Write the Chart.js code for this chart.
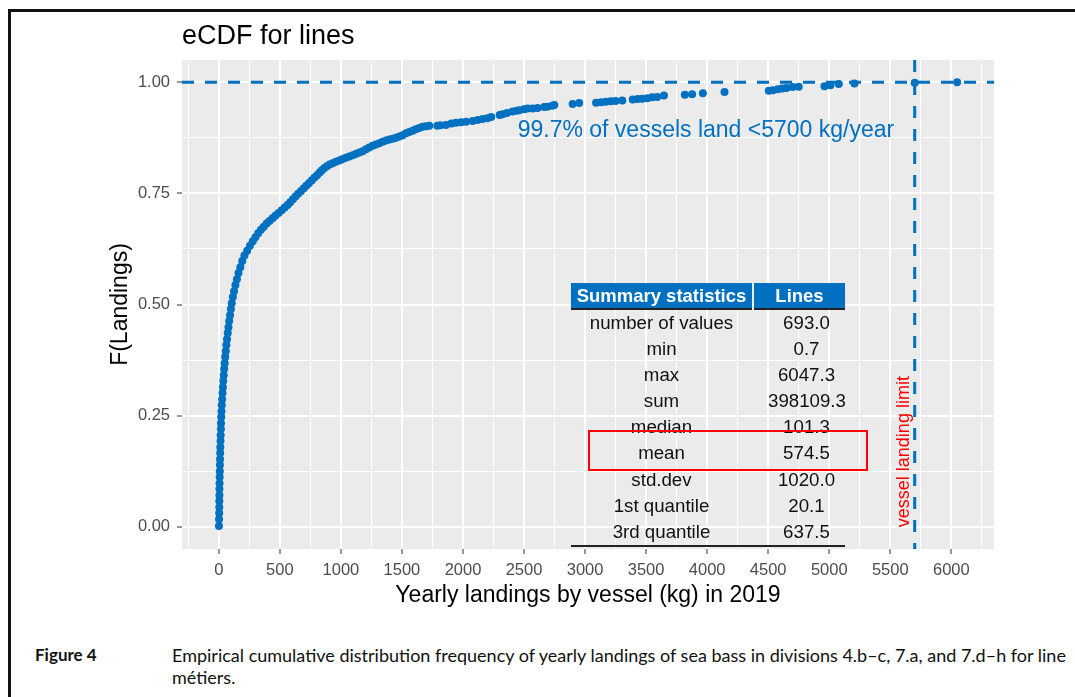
<!DOCTYPE html>
<html>
<head>
<meta charset="utf-8">
<title>eCDF for lines</title>
<script src="https://cdn.jsdelivr.net/npm/chart.js@4.4.1/dist/chart.umd.min.js"></script>
<style>
  body { margin: 0; width: 1075px; height: 697px; overflow: hidden; position: relative; background: #fff;
         font-family: "Liberation Sans", Arial, sans-serif; }
  #frame { position: absolute; left: 8px; top: 9px; width: 1100px; height: 720px; border: 3px solid #111; box-sizing: border-box; }
  #wrap { position: absolute; left: 0; top: 0; width: 1075px; height: 620px; }
  #stats { position: absolute; left: 571px; top: 283px; display: grid; grid-template-columns: 181px 91px;
           column-gap: 2px; grid-template-rows: 27px repeat(9, 26.1px); font-size: 18.7px; color: #111;
           border-bottom: 2px solid #222; }
  #stats .h { background: #0070C0; color: #fff; font-weight: bold; text-align: center; line-height: 25px;
              border-bottom: 2px solid #222; font-size: 18.5px; }
  #stats .l { text-align: center; line-height: 26.1px; }
  #stats .v { text-align: center; line-height: 26.1px; padding-left: 14px; }
  #redbox { position: absolute; left: 588px; top: 430px; width: 280px; height: 41px; border: 2px solid #ff0000; box-sizing: border-box; }
  #fig { position: absolute; left: 35px; top: 644px; font-family: Lato, sans-serif; font-weight: bold; font-size: 17px;
         line-height: 22px; color: #111; }
  #cap { position: absolute; left: 172px; top: 644px; font-family: Lato, sans-serif; font-size: 18px; line-height: 22px;
         color: #111; white-space: nowrap; }
</style>
</head>
<body>
<div id="frame"></div>
<div id="wrap"><canvas id="grafico"></canvas></div>
<div id="stats"></div>
<div id="redbox"></div>
<div id="fig">Figure 4</div>
<div id="cap">Empirical cumulative distribution frequency of yearly landings of sea bass in divisions 4.b–c, 7.a, and 7.d–h for line<br>métiers.</div>
<script>
// eCDF points (landings in kg, cumulative share)
const ecdfX = [
  1, 2, 3, 4, 4, 5, 5, 6, 7, 8, 9, 10, 11, 12, 14, 15, 17, 18, 20, 22,
  24, 27, 30, 33, 36, 40, 44, 48, 52, 57, 62, 67, 73, 79, 85, 92, 99, 106, 115, 125,
  136, 148, 161, 176, 192, 210, 232, 255, 278, 300, 322, 345, 368, 392, 415, 440, 465, 490, 515, 540,
  563, 585, 607, 628, 650, 672, 694, 716, 738, 760, 782, 805, 826, 845, 865, 885, 908, 932, 958, 987,
  1010, 1040, 1069, 1097, 1125, 1152, 1178, 1205, 1232, 1260, 1287, 1315, 1342, 1370, 1397, 1424, 1451, 1479, 1506, 1533,
  1560, 1587, 1614, 1641, 1669, 1697, 1724, 1790, 1815, 1861, 1905, 1943, 1985, 2025, 2079, 2120, 2161, 2200, 2231, 2300,
  2324, 2360, 2406, 2440, 2461, 2500, 2529, 2570, 2611, 2665, 2690, 2730, 2748, 2898, 2952, 3090, 3130, 3169, 3210, 3250,
  3305, 3390, 3430, 3468, 3510, 3550, 3590, 3646, 3817, 3877, 3965, 4142, 4505, 4540, 4580, 4614, 4650, 4700, 4750, 4961,
  5010, 5078, 5206, 5700, 6047.3
];
const ecdfY = [
  0.002, 0.017, 0.031, 0.044, 0.058, 0.071, 0.085, 0.098, 0.112, 0.125, 0.139, 0.152, 0.166, 0.179, 0.193, 0.206, 0.220, 0.233, 0.247, 0.260,
  0.274, 0.287, 0.301, 0.314, 0.328, 0.341, 0.355, 0.368, 0.382, 0.395, 0.409, 0.422, 0.436, 0.449, 0.463, 0.476, 0.490, 0.503, 0.517, 0.530,
  0.544, 0.557, 0.571, 0.584, 0.598, 0.610, 0.621, 0.632, 0.642, 0.651, 0.660, 0.668, 0.675, 0.682, 0.688, 0.694, 0.700, 0.706, 0.712, 0.718,
  0.724, 0.730, 0.737, 0.743, 0.749, 0.755, 0.761, 0.767, 0.773, 0.779, 0.785, 0.791, 0.797, 0.802, 0.807, 0.811, 0.815, 0.818, 0.821, 0.824,
  0.827, 0.830, 0.833, 0.836, 0.839, 0.842, 0.845, 0.849, 0.853, 0.857, 0.860, 0.863, 0.866, 0.869, 0.871, 0.873, 0.875, 0.878, 0.881, 0.885,
  0.888, 0.891, 0.894, 0.897, 0.900, 0.901, 0.902, 0.902, 0.903, 0.904, 0.907, 0.909, 0.910, 0.911, 0.913, 0.915, 0.917, 0.919, 0.922, 0.926,
  0.928, 0.931, 0.934, 0.936, 0.937, 0.939, 0.941, 0.941, 0.942, 0.944, 0.945, 0.947, 0.949, 0.951, 0.953, 0.954, 0.955, 0.956, 0.957, 0.958,
  0.959, 0.961, 0.962, 0.963, 0.964, 0.966, 0.967, 0.970, 0.972, 0.973, 0.975, 0.978, 0.981, 0.982, 0.984, 0.986, 0.987, 0.989, 0.990, 0.991,
  0.993, 0.996, 0.997, 0.9986, 1.0
];

// axes
const xMajor = [0, 500, 1000, 1500, 2000, 2500, 3000, 3500, 4000, 4500, 5000, 5500, 6000];
const xTickLabels = ["0", "500", "1000", "1500", "2000", "2500", "3000", "3500", "4000", "4500", "5000", "5500", "6000"];
const xMinor = [-250, 250, 750, 1250, 1750, 2250, 2750, 3250, 3750, 4250, 4750, 5250, 5750, 6250];
const yMajor = [0, 0.25, 0.5, 0.75, 1];
const yTickLabels = ["0.00", "0.25", "0.50", "0.75", "1.00"];
const yMinor = [0.125, 0.375, 0.625, 0.875];
const xRange = [-301.6, 6349.6];
const yRange = [-0.05, 1.05];

// reference lines and notes
const limitKg = 5700;
const topShare = 1;
const noteText = "99.7% of vessels land <5700 kg/year";
const notePos = [3990, 0.890];
const limitText = "vessel landing limit";
const limitTextPos = [5615, 0.169];

// summary table
const statLabels = ["number of values", "min", "max", "sum", "median", "mean", "std.dev", "1st quantile", "3rd quantile"];
const statValues = ["693.0", "0.7", "6047.3", "398109.3", "101.3", "574.5", "1020.0", "20.1", "637.5"];

const FONT = '"Liberation Sans", Arial, sans-serif';
const AZUL = "#0070C0";
Chart.defaults.font.family = FONT;

const tabela = document.getElementById("stats");
tabela.innerHTML = '<div class="h">Summary statistics</div><div class="h">Lines</div>' +
  statLabels.map((l, i) => '<div class="l">' + l + '</div><div class="v">' + statValues[i] + "</div>").join("");

const pontos = ecdfX.map((x, i) => ({ x: x, y: ecdfY[i] }));

const fundoPainel = {
  id: "fundoPainel",
  beforeDraw(chart) {
    const { ctx, chartArea: a } = chart;
    ctx.save();
    ctx.fillStyle = "#EBEBEB";
    ctx.fillRect(a.left, a.top, a.right - a.left, a.bottom - a.top);
    ctx.restore();
  },
};

const notas = {
  id: "notas",
  afterDatasetsDraw(chart) {
    const { ctx, scales } = chart;
    const escreve = (txt, pos, cor, tam, rot) => {
      ctx.save();
      ctx.translate(scales.x.getPixelForValue(pos[0]), scales.y.getPixelForValue(pos[1]));
      ctx.rotate(rot);
      ctx.font = tam + "px " + FONT;
      ctx.fillStyle = cor;
      ctx.textAlign = "center";
      ctx.textBaseline = "middle";
      ctx.fillText(txt, 0, 0);
      ctx.restore();
    };
    escreve(noteText, notePos, AZUL, 23, 0);
    escreve(limitText, limitTextPos, "#FF0000", 18, -Math.PI / 2);
  },
};

const ehMaior = (v, lista) => lista.some((m) => Math.abs(m - v) < 1e-9);

new Chart(document.getElementById("grafico"), {
  type: "scatter",
  data: {
    datasets: [
      {
        label: "1.00",
        data: [{ x: xRange[0], y: topShare }, { x: xRange[1], y: topShare }],
        showLine: true, borderColor: AZUL, borderWidth: 3, borderDash: [12, 11],
        pointRadius: 0, order: 0,
      },
      {
        label: "limit",
        data: [{ x: limitKg, y: yRange[1] }, { x: limitKg, y: yRange[0] }],
        showLine: true, borderColor: AZUL, borderWidth: 3, borderDash: [12, 11],
        pointRadius: 0, order: 0,
      },
      {
        label: "eCDF",
        data: pontos,
        pointRadius: 4, pointHoverRadius: 4, pointBackgroundColor: AZUL,
        pointBorderWidth: 0, pointBorderColor: AZUL, order: 1,
      },
    ],
  },
  options: {
    responsive: true,
    maintainAspectRatio: false,
    animation: false,
    events: [],
    layout: { padding: { left: 0, right: 81, top: 0, bottom: 0 } },
    plugins: {
      legend: { display: false },
      tooltip: { enabled: false },
      title: {
        display: true, text: "eCDF for lines", align: "start", fullSize: false,
        color: "#000", font: { size: 27, weight: "normal" },
        padding: { top: 20.4, bottom: 7.2 },
      },
    },
    scales: {
      x: {
        type: "linear", min: xRange[0], max: xRange[1],
        afterBuildTicks: (s) => { s.ticks = xMinor.concat(xMajor).sort((a, b) => a - b).map((v) => ({ value: v })); },
        afterFit: (s) => { s.height = 71; },
        border: { display: false },
        grid: {
          color: "#fff",
          lineWidth: (c) => (ehMaior(c.tick.value, xMajor) ? 2 : 1),
          tickColor: (c) => (ehMaior(c.tick.value, xMajor) ? "#333" : "rgba(0,0,0,0)"),
          tickWidth: 1, tickLength: 5,
        },
        ticks: {
          autoSkip: false, maxRotation: 0, minRotation: 0, padding: 7,
          color: "#4d4d4d", font: { size: 16.5 },
          callback: (v) => { const i = xMajor.indexOf(v); return i >= 0 ? xTickLabels[i] : ""; },
        },
        title: {
          display: true, text: "Yearly landings by vessel (kg) in 2019", color: "#000",
          font: { size: 23 }, padding: { top: 0, bottom: 11 },
        },
      },
      y: {
        type: "linear", min: yRange[0], max: yRange[1],
        afterBuildTicks: (s) => { s.ticks = yMinor.concat(yMajor).sort((a, b) => a - b).map((v) => ({ value: v })); },
        afterFit: (s) => { s.width = 182; },
        border: { display: false },
        grid: {
          color: "#fff",
          lineWidth: (c) => (ehMaior(c.tick.value, yMajor) ? 2 : 1),
          tickColor: (c) => (ehMaior(c.tick.value, yMajor) ? "#333" : "rgba(0,0,0,0)"),
          tickWidth: 1, tickLength: 5,
        },
        ticks: {
          autoSkip: false, padding: 7,
          color: "#4d4d4d", font: { size: 16.5 },
          callback: (v) => { const i = yMajor.findIndex((m) => Math.abs(m - v) < 1e-9); return i >= 0 ? yTickLabels[i] : ""; },
        },
        title: {
          display: true, text: "F(Landings)", color: "#000",
          font: { size: 23 }, padding: { top: 107, bottom: 0 },
        },
      },
    },
  },
  plugins: [fundoPainel, notas],
});
</script>
</body>
</html>
